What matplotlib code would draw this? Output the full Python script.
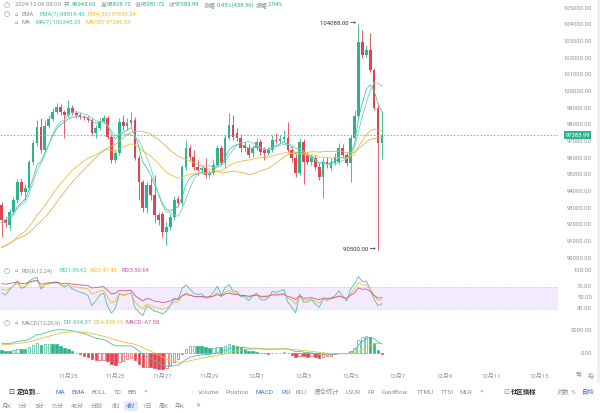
import numpy as np
import pandas as pd
import matplotlib
matplotlib.use("Agg")
import matplotlib.pyplot as plt
from matplotlib.patches import Rectangle

plt.rcParams['font.family'] = ['Roboto', 'Noto Sans CJK SC', 'DejaVu Sans']

W, H = 600, 413

# 4h candles, 2024-11-20 04:00 .. 2024-12-06 08:00
opens = [93198, 92298, 91998, 92778, 93498, 94578, 93978, 94218, 95778, 96918,
         97878, 96498, 97938, 98358, 98778, 99078, 98778, 98598, 99018, 98718,
         98598, 98478, 98418, 98298, 97518, 97818, 98238, 98418, 97278, 95898,
         96318, 98178, 97938, 98118, 98298, 96018, 94578, 93018, 94398, 93798,
         92598, 92658, 91578, 91878, 92478, 93558, 93318, 95478, 96618, 96078,
         95478, 95298, 95418, 94998, 95118, 95598, 96618, 95718, 97218, 97998,
         97518, 97218, 96798, 96618, 96318, 96618, 96978, 96498, 96318, 96498,
         97098, 97038, 97158, 97218, 96498, 96018, 95118, 96978, 96198, 95778,
         96018, 95478, 94878, 95778, 95418, 95718, 95778, 96618, 96198, 95718,
         97218, 98538, 102978, 102198, 102498, 101298, 99018, 96945.63]
highs = [93378, 92478, 92958, 93678, 94758, 94818, 94458, 95898, 97098, 98298,
         98418, 98298, 98598, 99018, 99318, 99258, 98898, 99498, 99198, 98838,
         98718, 98598, 98538, 98418, 97998, 98418, 98598, 98538, 97398, 96498,
         98418, 98598, 98418, 98778, 98478, 96198, 94698, 94578, 94818, 94998,
         92778, 92778, 92178, 92658, 93738, 93738, 95598, 97098, 96798, 96498,
         95898, 95598, 96018, 95298, 95898, 96798, 96798, 97398, 98718, 98598,
         97818, 97458, 96978, 96858, 96798, 97218, 97158, 96678, 96678, 97398,
         97518, 97398, 97698, 98178, 96738, 96258, 97218, 97158, 96378, 96198,
         96198, 95718, 96018, 96078, 96018, 96318, 96918, 96858, 96378, 97398,
         98898, 104088, 103698, 102798, 103518, 101418, 99198, 98828.70]
lows = [91278, 91878, 91698, 92658, 93318, 93798, 93498, 94098, 95598, 96738,
        96318, 96378, 97818, 98238, 98658, 98598, 97218, 98478, 98598, 98418,
        98358, 98298, 98178, 97398, 97218, 97698, 98118, 97158, 95718, 95718,
        96198, 97698, 97698, 97878, 95898, 93498, 92778, 92718, 93498, 92178,
        91998, 91278, 90798, 91698, 92298, 93138, 93198, 95298, 95898, 95298,
        94998, 95118, 94818, 94818, 94998, 95478, 95598, 95418, 97098, 97098,
        97038, 96378, 96378, 96018, 96078, 96498, 96198, 95898, 96198, 96378,
        96918, 96918, 96978, 96378, 95778, 94878, 94998, 94458, 95598, 95598,
        95298, 94698, 93618, 95418, 95298, 95598, 95658, 96018, 95538, 94578,
        97098, 98418, 102018, 102078, 101178, 98898, 90500, 95981.72]
closes = [92298, 92118, 92778, 93498, 94578, 93978, 94218, 95778, 96918, 97878,
          96498, 97938, 98358, 98778, 99078, 98778, 98598, 99018, 98718, 98598,
          98478, 98418, 98298, 97518, 97818, 98238, 98418, 97278, 95898, 96318,
          98178, 97938, 98118, 98298, 96018, 94578, 93018, 94398, 93798, 92598,
          92298, 91578, 91878, 92478, 93498, 93318, 95478, 96618, 96078, 95478,
          95298, 95418, 94998, 95118, 95598, 96618, 95718, 97218, 97998, 97278,
          97218, 96618, 96618, 96198, 96618, 96978, 96378, 96318, 96498, 97098,
          97038, 97158, 97278, 96498, 96018, 95118, 96978, 95778, 95778, 96078,
          95478, 94878, 95778, 95598, 95778, 96078, 96618, 96198, 95718, 97218,
          98538, 102978, 102198, 102498, 101298, 99018, 96945.63, 97383.99]
# closes before the visible window (warm-up for the indicators)
prior_closes = [87600, 88200, 88900, 89600, 90400, 91000, 90800, 91100, 90600, 90300,
                90600, 90500, 90200, 89800, 89400, 89100, 89300, 89800, 90100, 90600,
                91200, 91500, 90700, 90400, 91000, 91600, 92100, 92600, 92500, 93200]

last_price = 97383.99
price_ticks = list(range(90000, 105001, 1000))
date_labels = ['11月23', '11月25', '11月27', '11月29', '12月1', '12月3',
               '12月5', '12月7', '12月9', '12月11', '12月13']

GREEN = '#2DB48C'
RED = '#E2434F'
TEAL = '#4CC0AA'
TEAL2 = '#7ACFC2'
YEL = '#EDBE3A'
YEL2 = '#E2B257'
MAG = '#C8589A'
GRAY = '#8A8F99'
BLUE = '#4A6FD6'


def box(x0, y0, x1, y1):
    return [x0 / W, 1 - y1 / H, (x1 - x0) / W, (y1 - y0) / H]


def xpix(i):
    return (i - 1.7) / 3.92


# indicators
allc = pd.Series(prior_closes + closes, dtype=float)
n0 = len(prior_closes)
ema7 = allc.ewm(span=7, adjust=False).mean().values[n0:]
ema30 = allc.ewm(span=30, adjust=False).mean().values[n0:]
ma7 = allc.rolling(7).mean().values[n0:]
ma30 = allc.rolling(30).mean().values[n0:]
d = allc.diff()


def rsi(n):
    up = d.clip(lower=0).ewm(alpha=1 / n, adjust=False).mean()
    dn = (-d.clip(upper=0)).ewm(alpha=1 / n, adjust=False).mean()
    return (100 * up / (up + dn)).values[n0:]


dif_s = allc.ewm(span=12, adjust=False).mean() - allc.ewm(span=26, adjust=False).mean()
dea_s = dif_s.ewm(span=9, adjust=False).mean()
hist_s = 2 * (dif_s - dea_s)
dif = dif_s.values[n0:]
dea = dea_s.values[n0:]
hist = hist_s.values[n0:]
hist_prev = hist_s.shift(1).values[n0:]

times = pd.date_range('2024-11-20 04:00', periods=len(closes), freq='4h')
label_days = pd.date_range('2024-11-23', periods=len(date_labels), freq='2D')
label_pos = [(t - times[0]) / pd.Timedelta('4h') for t in label_days]

fig = plt.figure(figsize=(W / 100, H / 100), dpi=100)
fig.patch.set_facecolor('white')

x = np.arange(len(closes))
xl = (xpix(0), xpix(558))

# ---- main candle panel
ax = fig.add_axes(box(0, 0, 558, 263))
o, h, l, c = (np.array(v, dtype=float) for v in (opens, highs, lows, closes))
cols = np.where(c >= o, GREEN, RED)
ax.vlines(x, l, h, colors=cols, lw=0.6)
ax.bar(x, np.maximum(np.abs(c - o), 50), bottom=np.minimum(o, c), width=0.68,
       color=cols, lw=0)
ax.plot(x, ema7, color=TEAL, lw=0.6)
ax.plot(x, ma7, color=TEAL2, lw=0.6)
ax.plot(x, ema30, color=YEL, lw=0.6)
ax.plot(x, ma30, color=YEL2, lw=0.6)
ax.axhline(last_price, color='#9A9A9A', lw=0.6, ls=(0, (2, 2)))
ax.set_xlim(*xl)
ax.set_ylim(105498, 89718)
ax.invert_yaxis()
ax.axis('off')
ytr = ax.get_yaxis_transform()
for p in price_ticks:
    ax.text(592 / 558, p, f'{p:.2f}', transform=ytr, ha='right', va='center',
            fontsize=4.2, color=GRAY, clip_on=False)
ax.text(577.5 / 558, last_price, f'{last_price:.2f}', transform=ytr, ha='center',
        va='center', fontsize=4.2, color='white', clip_on=False,
        bbox=dict(boxstyle='square,pad=0.3', fc=GREEN, ec='none'))
imax = int(np.argmax(h))
imin = int(np.argmin(l))
ax.text(imax - 0.5, h[imax], f'{h[imax]:.2f} →', ha='right', va='center',
        fontsize=4.3, color='#333333')
ax.text(imin - 0.5, l[imin], f'{l[imin]:.2f} →', ha='right', va='center',
        fontsize=4.3, color='#333333')

# ---- RSI panel
ar = fig.add_axes(box(0, 265, 558, 318))
ar.axhspan(30, 70, color='#F4EAFD', lw=0)
ar.axhline(70, color='#D3C4EA', lw=0.6, ls=(0, (2, 2)))
ar.axhline(30, color='#D3C4EA', lw=0.6, ls=(0, (2, 2)))
ar.plot(x, rsi(6), color=TEAL, lw=0.6)
ar.plot(x, rsi(12), color=YEL, lw=0.6)
ar.plot(x, rsi(24), color=MAG, lw=0.6)
ar.set_xlim(*xl)
ar.set_ylim(13.6, 110)
ar.axis('off')
for v in [100, 70, 50, 30]:
    ar.text(592 / 558, v, f'{v:.2f}', transform=ar.get_yaxis_transform(), ha='right',
            va='center', fontsize=4.2, color=GRAY, clip_on=False)

# ---- MACD panel
am = fig.add_axes(box(0, 318, 558, 372))
hcol = np.where(hist >= 0, GREEN, RED)
hface = np.where(hist > hist_prev, 'white', hcol)
am.bar(x, hist, width=0.62, color=hface, edgecolor=hcol, lw=0.45)
am.plot(x, dif, color=TEAL, lw=0.6)
am.plot(x, dea, color=YEL, lw=0.6)
am.set_xlim(*xl)
am.set_ylim(-1704, 3139)
for s in am.spines.values():
    s.set_visible(False)
am.set_yticks([])
am.set_xticks(label_pos)
am.set_xticklabels(date_labels, fontsize=4.3, color=GRAY)
am.tick_params(axis='x', length=0, pad=1.2)
for v in [2000, 0]:
    am.text(592 / 558, v, f'{v:.2f}', transform=am.get_yaxis_transform(), ha='right',
            va='center', fontsize=4.2, color=GRAY, clip_on=False)


def t(xp, yp, s, color=GRAY, size=4.2, **kw):
    fig.text(xp / W, 1 - yp / H, s, color=color, fontsize=size, ha='left',
             va='center', **kw)


def chev(xp, yp):
    fig.text(xp / W, 1 - yp / H, '˅', color='#999999', fontsize=3.2, ha='center',
             va='center', bbox=dict(boxstyle='circle,pad=0.12', fc='none',
                                    ec='#999999', lw=0.4))


# header lines
chev(7, 5)
t(15, 5, '2024-12-06 08:00')
t(64, 5, '开')
t(72, 5, '96945.63', GREEN)
t(101, 5, '高')
t(107, 5, '98828.70', GREEN)
t(135, 5, '低')
t(141, 5, '95981.72', GREEN)
t(169, 5, '收')
t(175, 5, '97383.99', GREEN)
t(204, 5, '涨幅')
t(217, 5, '0.45%(438.36)', GREEN)
t(256, 5, '振幅')
t(268, 5, '2.94%', GREEN)

chev(7, 14)
t(15, 14, '⌂', size=3.8)
t(22, 14, 'EMA')
t(39, 14, 'EMA(7):98818.40', TEAL)
t(88, 14, 'EMA(30):97683.04', YEL)
t(15, 22.5, '⌂', size=3.8)
t(22, 22.5, 'MA')
t(35, 22.5, 'MA(7):100345.23', TEAL)
t(85, 22.5, 'MA(30):97245.83', YEL)

chev(7, 271)
t(15, 271, '⌂', size=3.8)
t(22, 271, 'RSI(6,12,24)')
t(59, 271, 'RSI1:39.62', TEAL)
t(90, 271, 'RSI2:47.43', YEL)
t(122, 271, 'RSI3:50.64', MAG)

chev(7, 323)
t(15, 323, '⌂', size=3.8)
t(22, 323, 'MACD(12,26,9)')
t(63, 323, 'DIF:804.37', TEAL)
t(94, 323, 'DEA:838.16', YEL)
t(126, 323, 'MACD:-67.58', MAG)

# right-side buttons and scrollbar
t(576, 375, '筹', size=4.3)
t(588, 375, '指', size=4.3)
fig.patches.append(Rectangle((597 / W, 30 / H), 3 / W, 383 / H,
                             transform=fig.transFigure, fc='#EFEFEF', ec='none'))

# toolbar row
ty = 392
t(8, ty, '⊡', '#333333', 5)
t(17, ty, '定位到...', '#222222', 4.6, fontweight='bold')
for xp, s, col in [(56, 'MA', BLUE), (71, 'EMA', BLUE), (91, 'BOLL', GRAY),
                   (114, 'TD', GRAY), (128, 'BBI', GRAY), (144, '>', GRAY),
                   (192, '|', '#DDDDDD'),
                   (198, 'Volume', GRAY), (226, 'Position', GRAY),
                   (256, 'MACD', BLUE), (281, 'RSI', BLUE), (296, 'KDJ', GRAY),
                   (314, '爆仓统计', GRAY), (346, 'LSUR', GRAY), (368, 'FR', GRAY),
                   (382, 'Fundflow', GRAY), (417, 'TTMU', GRAY), (441, 'TTSI', GRAY),
                   (459, 'MLR', GRAY), (480, '>', GRAY),
                   (557, '对数', GRAY), (571, '%', GRAY), (582, '自动', BLUE)]:
    t(xp, ty, s, col, 4.6)
t(503, ty, '⊡', GRAY, 5)
t(511, ty, '社区指标', '#222222', 4.6, fontweight='bold')

# interval row
by = 406
for xp, s in [(2, '月K'), (17, '1分'), (34, '5分'), (50, '15分'), (71, '45分'),
              (91, '分时'), (110, '1时'), (142, '1日'), (159, '周K'), (175, '年K'),
              (195, '✕')]:
    t(xp, by, s, GRAY, 4.4)
t(126, by, '4时', BLUE, 4.4,
  bbox=dict(boxstyle='square,pad=0.35', fc='#E4ECFA', ec='none'))

fig.savefig('out.png', dpi=100, facecolor='white')
